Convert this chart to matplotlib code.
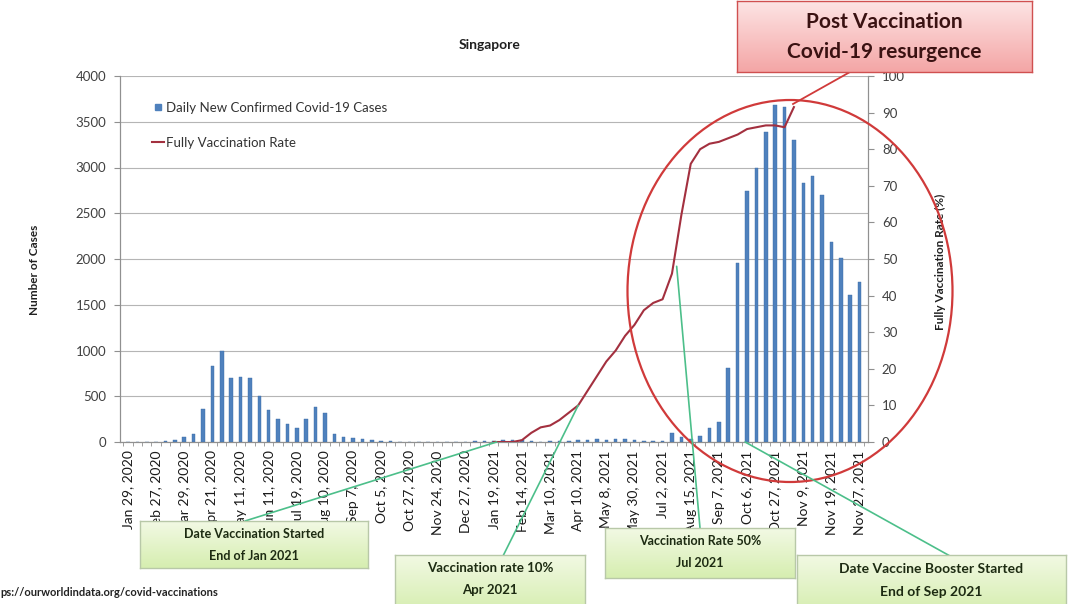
import numpy as np
import matplotlib
matplotlib.use('Agg')
import matplotlib.pyplot as plt
from matplotlib.colors import LinearSegmentedColormap
from matplotlib.patches import Ellipse, ConnectionPatch
from matplotlib.lines import Line2D

plt.rcParams['font.family'] = ['Lato', 'DejaVu Sans']

W, H = 1071, 604

# weekly-ish reporting points (categorical axis, every 3rd one labelled)
tick_labels = [
    'Jan 29, 2020', 'Feb 27, 2020', 'Mar 29, 2020', 'Apr 21, 2020', 'May 11, 2020',
    'Jun 11, 2020', 'Jul 19, 2020', 'Aug 10, 2020', 'Sep 7, 2020', 'Oct 5, 2020',
    'Oct 27, 2020', 'Nov 24, 2020', 'Dec 27, 2020', 'Jan 19, 2021', 'Feb 14, 2021',
    'Mar 10, 2021', 'Apr 10, 2021', 'May 8, 2021', 'May 30, 2021', 'Jul 2, 2021',
    'Aug 15, 2021', 'Sep 7, 2021', 'Oct 6, 2021', 'Oct 27, 2021', 'Nov 9, 2021',
    'Nov 19, 2021', 'Nov 27, 2021',
]

daily_cases = [
    0, 0, 2, 5, 10, 25, 50, 85, 360, 830,
    1000, 700, 715, 700, 500, 350, 248, 197, 150, 248,
    386, 313, 84, 58, 40, 30, 22, 10, 8, 5,
    5, 4, 5, 3, 3, 4, 5, 6, 10, 15,
    20, 25, 20, 10, 5, 10, 12, 15, 20, 25,
    30, 25, 35, 30, 20, 15, 10, 15, 95, 50,
    30, 65, 150, 222, 805, 1953, 2747, 2991, 3391, 3683,
    3665, 3301, 2827, 2907, 2700, 2189, 2008, 1607, 1752,
]

# fully vaccinated share (%), reported from category 39 onwards
vacc_start = 39
vacc_rate = [
    0, 0, 0, 0.5, 2.5, 4, 4.5, 6, 8, 10,
    14, 18, 22, 25, 29, 32, 36, 38, 39, 46,
    62, 76, 80, 81.5, 82, 83, 84, 85.5, 86, 86.5,
    86.5, 86, 91.5,
]

cats = np.arange(len(daily_cases))
vacc_x = np.arange(vacc_start, vacc_start + len(vacc_rate))


def fx(x):
    return x / W


def fy(y):
    return 1 - y / H


fig = plt.figure(figsize=(W / 100, H / 100), dpi=100)
fig.patch.set_facecolor('white')

ax = fig.add_axes([fx(120), fy(442), fx(868) - fx(120), fy(76) - fy(442)])
ax2 = ax.twinx()

ax.bar(cats, daily_cases, width=0.38, color='#4f81bd', edgecolor='#3a6aa5',
       linewidth=0.3, zorder=3)
ax2.plot(vacc_x, vacc_rate, color='#a3303f', lw=1.5, zorder=4)

ax.set_xlim(-0.85, 78.9)
ax.set_ylim(0, 4000)
ax2.set_ylim(0, 100)
ax.set_yticks(np.arange(0, 4001, 500))
ax2.set_yticks(np.arange(0, 101, 10))

ax.set_xticks(np.arange(0, len(daily_cases), 3))
ax.set_xticklabels(tick_labels, rotation=90, fontsize=10, color='#1a1a1a')
ax.set_xticks(np.arange(-0.5, len(daily_cases), 1), minor=True)
ax.tick_params(axis='x', which='major', length=0, pad=6)
ax.tick_params(axis='x', which='minor', length=3, color='#909090')
ax.tick_params(axis='y', length=4, color='#909090', labelsize=9.5, labelcolor='#404040', pad=6)
ax2.tick_params(axis='y', length=4, color='#909090', labelsize=9.5, labelcolor='#404040', pad=6)

ax.yaxis.grid(True, color='#b5b5b5', lw=0.8, zorder=0)
ax.set_axisbelow(True)
for a in (ax, ax2):
    a.spines['top'].set_visible(False)
    for s in ('left', 'right', 'bottom'):
        a.spines[s].set_color('#909090')
        a.spines[s].set_linewidth(0.8)

handles = [
    Line2D([], [], marker='s', ls='none', color='#4f81bd', markersize=5),
    Line2D([], [], color='#a3303f', lw=1.5),
]
fig.legend(handles, ['Daily New Confirmed Covid-19 Cases', 'Fully Vaccination Rate'],
           loc='upper left', bbox_to_anchor=(fx(140), fy(90)), frameon=False,
           fontsize=9.5, labelspacing=1.75, handlelength=0.9, handletextpad=0.2,
           labelcolor='#333333')

fig.text(fx(490), fy(45), 'Singapore', ha='center', va='center', fontsize=10,
         fontweight='bold', color='#202020')
fig.text(fx(35), fy(270), 'Number of Cases', rotation=90, ha='center', va='center',
         fontsize=8.5, fontweight='bold', color='#202020')
fig.text(fx(940), fy(262), 'Fully Vaccination Rate (%)', rotation=90, ha='center',
         va='center', fontsize=8.5, fontweight='bold', color='#202020')
fig.text(fx(0), fy(592), 'ps://ourworldindata.org/covid-vaccinations', ha='left',
         va='center', fontsize=8, fontweight='bold', color='#222222')

# red ring around the late-2021 wave
fig.patches.append(Ellipse((fx(790), fy(291)), 325 / W, 382 / H, transform=fig.transFigure,
                           fill=False, edgecolor='#d03a3a', lw=1.6, zorder=6))


def gradient_box(x0, y0, x1, y1, c_top, c_bot, edge, lines, size, tcolor, line_ys):
    bx = fig.add_axes([fx(x0), fy(y1), fx(x1) - fx(x0), fy(y0) - fy(y1)], zorder=10)
    grad = np.linspace(0, 1, 64)[:, None]
    cmap = LinearSegmentedColormap.from_list('box', [c_top, c_bot])
    bx.imshow(grad, aspect='auto', cmap=cmap, extent=[0, 1, 0, 1])
    bx.set_xticks([])
    bx.set_yticks([])
    for s in bx.spines.values():
        s.set_color(edge)
        s.set_linewidth(1.0)
    for txt, ly in zip(lines, line_ys):
        bx.text(0.5, (y1 - ly) / (y1 - y0), txt, ha='center', va='center',
                fontsize=size, fontweight='bold', color=tcolor, transform=bx.transAxes)
    return bx


green_top, green_bot = '#f2f9e4', '#d6eeb0'
gradient_box(140, 521, 368, 568, green_top, green_bot, '#b8c8a8',
             ['Date Vaccination Started', 'End of Jan 2021'], 9, '#1d2b12', [534, 556])
gradient_box(395, 555, 585, 612, green_top, green_bot, '#b8c8a8',
             ['Vaccination rate 10%', 'Apr 2021'], 9.5, '#1d2b12', [568, 590])
gradient_box(605, 528, 795, 578, green_top, green_bot, '#b8c8a8',
             ['Vaccination Rate 50%', 'Jul 2021'], 9, '#1d2b12', [541, 563])
gradient_box(797, 555, 1066, 612, green_top, green_bot, '#b8c8a8',
             ['Date Vaccine Booster Started', 'End of Sep 2021'], 10, '#1d2b12', [569, 592])
gradient_box(737, 1, 1032, 72, '#fde4e4', '#f4a6a6', '#d05050',
             ['Post Vaccination', 'Covid-19 resurgence'], 15, '#3a1212', [22, 52])

# pointer lines from the callouts to the chart
pointers = [
    ((39.3, 0), ax, (245, 521)),
    ((48, 10), ax2, (503, 556)),
    ((58.5, 48), ax2, (700, 528)),
    ((65.8, 0), ax, (950, 556)),
]
for (px, py), a, (bx_, by_) in pointers:
    cp = ConnectionPatch(xyA=(px, py), coordsA=a.transData,
                         xyB=(fx(bx_), fy(by_)), coordsB=fig.transFigure,
                         color='#4cbf8a', lw=1.2, zorder=9)
    fig.add_artist(cp)

fig.add_artist(Line2D([fx(793), fx(850)], [fy(104), fy(72)], transform=fig.transFigure,
                      color='#d03a3a', lw=1.3, zorder=9))

fig.savefig('out.png', dpi=100, facecolor='white')
